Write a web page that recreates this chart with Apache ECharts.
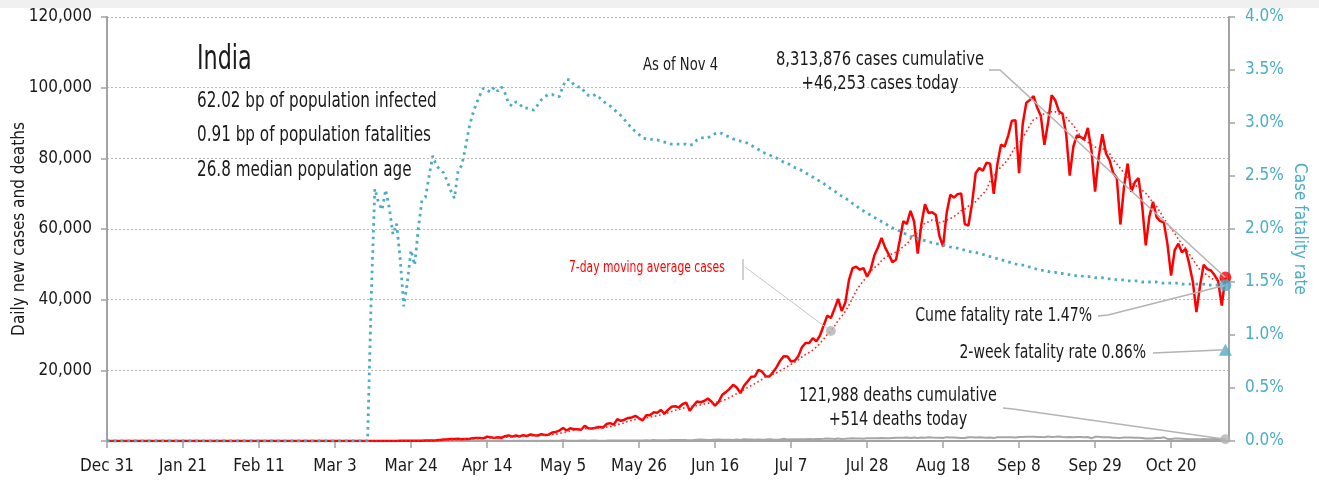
<!DOCTYPE html>
<html><head><meta charset="utf-8">
<script src="https://cdn.jsdelivr.net/npm/echarts@6/dist/echarts.min.js"></script>
<style>html,body{margin:0;padding:0;background:#fff}#c{width:1319px;height:480px}</style>
</head><body><div id="c"></div>
<script>
const FONT = "'DejaVu Sans Condensed','Liberation Sans Narrow','Roboto',sans-serif";
const BLUE = '#4bacc6';
const TEXT = '#1a1a1a';

// x-axis: day index from Dec 31, 2019; ticks every 21 days
const tickLabels = ['Dec 31','Jan 21','Feb 11','Mar 3','Mar 24','Apr 14','May 5','May 26','Jun 16','Jul 7','Jul 28','Aug 18','Sep 8','Sep 29','Oct 20'];

// Daily new cases, Dec 31 .. Nov 4
const dailyCases = [
  0,0,0,0,0,0,0,0,0,0,0,0,0,0,0,0,0,0,0,0,0,0,0,0,0,0,0,0,0,0,0,1,
  0,0,1,1,0,0,0,0,0,0,0,0,0,0,0,0,0,0,0,0,0,0,0,0,0,0,0,0,0,
  0,0,2,1,22,2,1,3,5,9,15,8,10,10,12,13,15,14,24,28,53,78,69,94,74,86,73,153,136,120,187,
  309,424,486,560,579,609,484,573,565,813,871,854,758,1243,1031,886,1061,922,1371,1580,1239,1537,1292,1667,1408,1835,1607,1568,1902,1705,
  1801,2396,2564,2952,3656,2971,3602,3344,3339,3175,4311,3592,3562,3726,3991,3808,4794,5049,4628,6154,5720,6023,6536,6667,7111,6414,5843,7293,7300,8105,7964,
  8789,7723,8812,9689,9847,9472,10408,10882,8536,9981,11156,10956,11306,12023,11157,10032,11086,13103,13827,14740,15915,15151,13560,15656,16868,18205,18255,20142,19610,18339,
  18256,19429,20903,22721,24018,23942,22500,22689,24015,26506,27755,27761,29106,28178,29917,32607,35468,34820,37407,40243,36806,39172,45599,48916,49310,48472,48933,46484,48513,52479,54750,
  57486,54735,52783,50629,51282,56626,62170,61455,65156,62117,53016,61252,66999,64553,64732,63986,57981,55079,64572,69672,68900,69876,70067,61408,60975,67151,75760,77266,76472,78761,78512,
  69921,78357,83883,83341,86432,90632,90802,75809,89706,95735,96551,97570,94372,92071,83809,90123,97894,96424,93337,92605,86961,75083,83347,86508,86052,85362,88600,82170,70589,80472,
  86821,81484,79476,75829,74442,61267,72049,78524,70496,73272,74383,66732,55342,63509,67708,63371,62212,61871,55722,46790,54044,55839,53370,54366,50129,45149,36470,43893,49881,48648,48268,
  46963,45231,38310,46253
];

// Daily new deaths, Dec 31 .. Nov 4
const dailyDeaths = [
  0,0,0,0,0,0,0,0,0,0,0,0,0,0,0,0,0,0,0,0,0,0,0,0,0,0,0,0,0,0,0,0,
  0,0,0,0,0,0,0,0,0,0,0,0,0,0,0,0,0,0,0,0,0,0,0,0,0,0,0,0,0,
  0,0,0,0,0,0,0,0,0,0,0,0,1,0,1,0,0,1,0,1,1,0,3,2,1,2,3,4,5,4,3,
  6,12,15,16,11,20,35,18,33,40,30,34,35,51,38,26,43,37,36,31,44,47,37,56,48,56,48,60,70,73,
  72,77,79,83,195,126,90,104,95,128,111,87,122,134,100,104,120,157,134,132,134,148,137,142,156,146,170,194,175,265,193,
  230,204,221,260,273,286,295,266,246,274,357,396,386,311,325,380,390,341,336,375,306,445,312,465,418,407,380,410,384,417,
  507,434,379,442,613,425,467,482,487,475,519,551,500,553,582,606,687,671,543,681,587,637,740,757,705,708,654,768,775,783,764,
  853,771,803,857,904,886,933,1007,875,1007,871,1007,942,1092,1007,944,941,876,1092,977,983,945,836,836,1057,1059,1021,1065,1015,948,971,
  818,1045,1043,1096,1089,1065,1016,1133,1115,1172,1209,1201,1114,1136,1054,1283,1132,1174,1247,1130,1053,1130,1085,1129,1141,1089,1124,776,1179,1181,
  1095,1069,1089,940,903,884,986,971,964,926,918,816,706,730,680,895,837,1033,579,587,717,702,650,578,490,480,488,517,563,490,470,
  551,470,488,514
];

// Cumulative case fatality rate (%), Dec 31 .. Nov 4
const cfrPct = [
  0,0,0,0,0,0,0,0,0,0,0,0,0,0,0,0,0,0,0,0,0,0,0,0,0,0,0,0,0,0,0,0,
  0,0,0,0,0,0,0,0,0,0,0,0,0,0,0,0,0,0,0,0,0,0,0,0,0,0,0,0,0,
  0,0,0,0,0,0,0,0,0,0,0,0,1.35,2.38,2.25,2.18,2.37,2.2,1.95,2.05,1.72,1.27,1.5,1.8,1.66,2.0,2.27,2.3,2.5,2.69,2.6,
  2.56,2.53,2.45,2.36,2.29,2.55,2.60,2.76,2.95,3.08,3.18,3.26,3.33,3.31,3.29,3.34,3.30,3.34,3.28,3.18,3.16,3.20,3.18,3.14,3.14,3.13,3.12,3.17,3.22,3.25,
  3.27,3.27,3.25,3.25,3.35,3.41,3.41,3.36,3.34,3.34,3.29,3.26,3.25,3.27,3.24,3.21,3.18,3.16,3.13,3.10,3.07,3.03,2.99,2.95,2.92,2.89,2.86,2.85,2.85,2.84,2.84,
  2.83,2.82,2.81,2.80,2.80,2.80,2.80,2.80,2.79,2.80,2.84,2.86,2.86,2.86,2.88,2.90,2.91,2.90,2.88,2.87,2.85,2.84,2.83,2.82,2.81,2.79,2.77,2.75,2.73,2.71,
  2.70,2.68,2.67,2.65,2.63,2.62,2.60,2.58,2.57,2.55,2.53,2.51,2.49,2.47,2.45,2.43,2.40,2.38,2.36,2.33,2.31,2.29,2.27,2.24,2.22,2.19,2.17,2.15,2.13,2.11,2.09,
  2.07,2.05,2.03,2.01,2.00,1.98,1.96,1.95,1.93,1.92,1.91,1.90,1.89,1.88,1.87,1.86,1.86,1.85,1.84,1.83,1.82,1.82,1.81,1.80,1.79,1.78,1.78,1.77,1.76,1.75,1.74,
  1.73,1.72,1.71,1.70,1.69,1.68,1.67,1.66,1.66,1.65,1.64,1.63,1.62,1.61,1.61,1.60,1.59,1.59,1.58,1.58,1.57,1.57,1.56,1.56,1.56,1.55,1.55,1.55,1.54,1.54,
  1.54,1.53,1.53,1.53,1.52,1.52,1.52,1.51,1.51,1.51,1.51,1.50,1.50,1.50,1.50,1.50,1.49,1.49,1.49,1.49,1.49,1.49,1.48,1.48,1.48,1.48,1.48,1.48,1.48,1.47,1.47,
  1.47,1.47,1.47,1.47
];

const twoWeekCfr = 0.86;
const cumCases = 8313876;
const cumDeaths = 121988;
const countryName = 'India';
const countryStats = ['62.02 bp of population infected', '0.91 bp of population fatalities', '26.8 median population age'];
const asOfText = 'As of Nov 4';
const maDotDay = 200;

// 7-day trailing moving average of the daily cases
const ma7 = dailyCases.map((_, i) => {
  const w = dailyCases.slice(Math.max(0, i - 6), i + 1);
  return w.reduce((a, b) => a + b, 0) / w.length;
});

const pairs = arr => arr.map((v, i) => [i, v]);
const last = dailyCases.length - 1;

const axisGray = '#a3a3a3';
const chart = echarts.init(document.getElementById('c'), null, {renderer: 'canvas'});
const option = {
  animation: false,
  backgroundColor: '#ffffff',
  textStyle: {fontFamily: FONT},
  grid: {left: 107, right: 90, top: 17, bottom: 39, containLabel: false, outerBoundsMode: 'none'},
  xAxis: {
    type: 'value', min: 0, max: 310, interval: 21,
    axisLine: {show: true, lineStyle: {color: axisGray, width: 2}},
    axisTick: {show: true, length: 7, lineStyle: {color: axisGray, width: 1.5}},
    axisLabel: {
      fontSize: 17, color: TEXT, fontFamily: FONT, margin: 17, showMaxLabel: false,
      formatter: v => (v % 21 === 0 ? (tickLabels[v / 21] || '') : '')
    },
    splitLine: {show: false}
  },
  yAxis: [{
    type: 'value', min: 0, max: 120000, interval: 20000, position: 'left',
    axisLine: {show: true, lineStyle: {color: axisGray, width: 2}},
    axisTick: {show: true, length: 6, lineStyle: {color: axisGray, width: 1.5}},
    axisLabel: {fontSize: 17, color: TEXT, fontFamily: FONT, margin: 15,
      formatter: v => (v === 0 ? '' : v.toLocaleString('en-US'))},
    splitLine: {show: true, lineStyle: {color: '#b8b8b8', type: [2, 2], width: 1}},
    name: 'Daily new cases and deaths', nameLocation: 'middle', nameGap: 79, nameMoveOverlap: false,
    nameTextStyle: {fontSize: 17, color: TEXT, fontFamily: FONT}
  }, {
    type: 'value', min: 0, max: 4, interval: 0.5, position: 'right',
    axisLine: {show: true, lineStyle: {color: axisGray, width: 2}},
    axisTick: {show: true, length: 6, lineStyle: {color: axisGray, width: 1.5}},
    axisLabel: {fontSize: 17, color: BLUE, fontFamily: FONT, margin: 16,
      formatter: v => v.toFixed(1) + '%'},
    splitLine: {show: false},
    name: 'Case fatality rate', nameLocation: 'middle', nameRotate: -90, nameGap: 62, nameMoveOverlap: false,
    nameTextStyle: {fontSize: 17, color: BLUE, fontFamily: FONT}
  }],
  series: [
    {type: 'line', name: 'deaths', data: pairs(dailyDeaths), showSymbol: false, symbol: 'none',
      lineStyle: {color: '#a6a6a6', width: 2}, z: 2},
    {type: 'line', name: 'cases', data: pairs(dailyCases), showSymbol: false, symbol: 'none',
      lineStyle: {color: '#ff0000', width: 2.5}, z: 3},
    {type: 'line', name: 'ma7', data: pairs(ma7), showSymbol: false, symbol: 'none',
      lineStyle: {color: '#ff2020', width: 1.6, type: [1.6, 2.6]}, z: 4},
    {type: 'line', name: 'cfr', yAxisIndex: 1, data: pairs(cfrPct), showSymbol: false, symbol: 'none',
      lineStyle: {color: BLUE, width: 2.8, type: [2.6, 4.2]}, z: 5},
    {type: 'scatter', data: [[last, dailyCases[last]]], symbol: 'circle', symbolSize: 12,
      itemStyle: {color: '#ff0000'}, z: 6},
    {type: 'scatter', data: [[last, dailyDeaths[last]], [maDotDay, ma7[maDotDay]]], symbol: 'circle', symbolSize: 10,
      itemStyle: {color: '#b3b3b3'}, z: 6},
    {type: 'scatter', yAxisIndex: 1, data: [[last, cfrPct[last]]], symbol: 'circle', symbolSize: 12,
      itemStyle: {color: BLUE}, z: 7},
    {type: 'scatter', yAxisIndex: 1, data: [[last, twoWeekCfr]], symbol: 'triangle', symbolSize: [13, 12],
      itemStyle: {color: BLUE}, z: 7}
  ]
};
chart.setOption(option);

const px = (d, v, yi) => chart.convertToPixel({xAxisIndex: 0, yAxisIndex: yi}, [d, v]);
const pCase = px(last, dailyCases[last], 0);
const pCfr = px(last, cfrPct[last], 1);
const pTwo = px(last, twoWeekCfr, 1);
const pDeath = px(last, dailyDeaths[last], 0);
const pMa = px(maDotDay, ma7[maDotDay], 0);

// condensed-looking text: horizontal squeeze around the anchor point
function txt(text, x, y, size, align, sx, color) {
  return {type: 'text', x: x, y: y, scaleX: sx, scaleY: 1, z: 100,
    style: {text: text, x: 0, y: 0, font: size + 'px ' + FONT, fill: color || TEXT,
      align: align, verticalAlign: 'middle', textAlign: align, textVerticalAlign: 'middle'}};
}
function leader(points, color, w) {
  return {type: 'polyline', z: 50, shape: {points: points},
    style: {stroke: color || '#b3b3b3', lineWidth: w || 1.5, fill: null}};
}
const fmt = n => n.toLocaleString('en-US');

chart.setOption({graphic: [
  {type: 'rect', shape: {x: 0, y: 0, width: 1319, height: 8}, style: {fill: '#f0f0f0'}, z: 0},
  txt(countryName, 197, 60, 33, 'left', 0.75),
  txt(countryStats[0], 197, 102, 21, 'left', 0.805),
  txt(countryStats[1], 197, 136, 21, 'left', 0.805),
  txt(countryStats[2], 197, 171, 21, 'left', 0.805),
  txt(asOfText, 643, 66, 17, 'left', 0.86),
  txt(fmt(cumCases) + ' cases cumulative', 880, 60, 20, 'center', 0.82),
  txt('+' + fmt(dailyCases[last]) + ' cases today', 880, 84, 20, 'center', 0.82),
  leader([[989, 70], [1000, 70], pCase]),
  txt('7-day moving average cases', 569, 268, 15, 'left', 0.8, '#ff0000'),
  leader([[743, 259], [743, 280]], '#b3b3b3', 1.2),
  leader([[745, 267], pMa], '#c4c4c4', 1),
  txt('Cume fatality rate ' + cfrPct[last].toFixed(2) + '%', 1092, 316, 20, 'right', 0.78),
  leader([[1098, 316], [1108, 315], pCfr]),
  txt('2-week fatality rate ' + twoWeekCfr.toFixed(2) + '%', 1146, 353, 20, 'right', 0.78),
  leader([[1153, 353], pTwo]),
  txt(fmt(cumDeaths) + ' deaths cumulative', 898, 396, 20, 'center', 0.8),
  txt('+' + fmt(dailyDeaths[last]) + ' deaths today', 898, 420, 20, 'center', 0.8),
  leader([[1003, 408], [1013, 409], pDeath])
]});
</script></body></html>
